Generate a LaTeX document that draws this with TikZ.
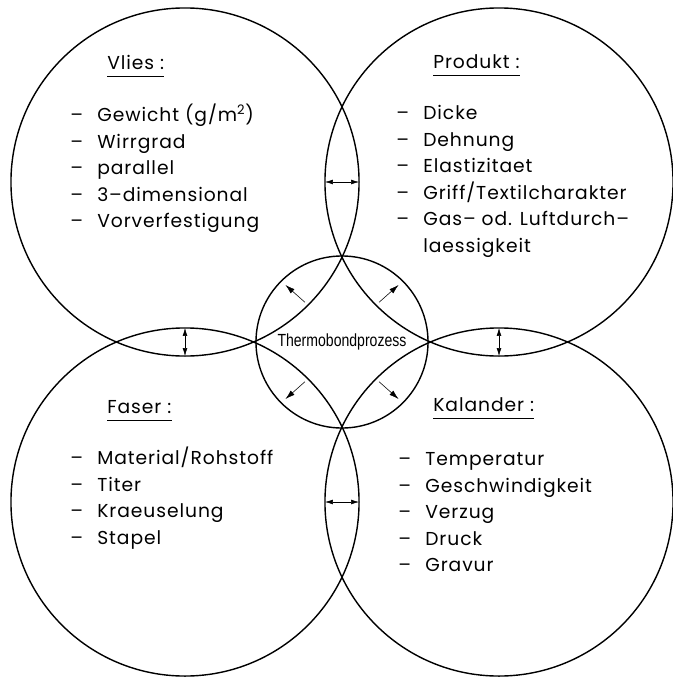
\documentclass[tikz,border=0pt]{standalone}
\usepackage{fontspec}
\setmainfont{Poppins}[LetterSpace=5]
\newfontfamily\narrowfont[FakeStretch=0.8]{Liberation Sans}
\usetikzlibrary{arrows.meta}

\begin{document}
\begin{tikzpicture}[x=0.025cm, y=-0.025cm,
    bigcircle/.style={draw, circle, line width=1pt, minimum size=8.7cm, inner sep=0pt, outer sep=0pt},
    title/.style={anchor=base west, inner sep=0pt, font=\fontsize{13.3}{16}\selectfont},
    items/.style={anchor=base west, inner sep=0pt, font=\fontsize{13.3}{18.85}\selectfont},
    lens/.style={{Latex[length=2mm,width=1.2mm]}-{Latex[length=2mm,width=1.2mm]}, line width=0.4pt},
    outward/.style={-{Latex[length=2.4mm,width=1.4mm]}, line width=0.4pt, shorten <=3pt, shorten >=4pt}]
  \useasboundingbox (0,0) rectangle (672,677);

  % four big circles and the centre
  \node[bigcircle] (vlies)    at (185,182) {};
  \node[bigcircle] (produkt)  at (499,182) {};
  \node[bigcircle] (faser)    at (185,502) {};
  \node[bigcircle] (kalander) at (499,502) {};
  \node[draw, circle, line width=1pt, minimum size=4.3cm, inner sep=0pt, outer sep=0pt,
        font=\narrowfont\fontsize{12.5}{14}\selectfont] (thermo) at (342,342) {Thermobondprozess};

  % titles
  \node[title] (vliesT)    at (107,69)  {Vlies :};
  \node[title] (produktT)  at (433,68)  {Produkt :};
  \node[title] (faserT)    at (107,413) {Faser :};
  \node[title] (kalanderT) at (433,411) {Kalander :};
  \foreach \t in {vliesT, produktT, faserT, kalanderT}
    \draw[line width=0.8pt] ([yshift=-5.3pt]\t.base west) -- ([yshift=-5.3pt]\t.base east);

  % lists
  \node[items] (vliesL) at (70,121.5) {\begin{tabular}[t]{@{}p{0.675cm}@{}l@{}}
    -- & Gewicht (g/m\textsuperscript{2}) \\
    -- & Wirrgrad \\
    -- & parallel \\
    -- & 3--dimensional \\
    -- & Vorverfestigung
  \end{tabular}};
  \node[items] (produktL) at (396,119.5) {\begin{tabular}[t]{@{}p{0.675cm}@{}l@{}}
    -- & Dicke \\
    -- & Dehnung \\
    -- & Elastizitaet \\
    -- & Griff/Textilcharakter \\
    -- & Gas-- od. Luftdurch-- \\
       & laessigkeit
  \end{tabular}};
  \node[items] (faserL) at (70,464.5) {\begin{tabular}[t]{@{}p{0.675cm}@{}l@{}}
    -- & Material/Rohstoff \\
    -- & Titer \\
    -- & Kraeuselung \\
    -- & Stapel
  \end{tabular}};
  \node[items] (kalanderL) at (398,465.5) {\begin{tabular}[t]{@{}p{0.675cm}@{}l@{}}
    -- & Temperatur \\
    -- & Geschwindigkeit \\
    -- & Verzug \\
    -- & Druck \\
    -- & Gravur
  \end{tabular}};

  % arrows in the overlaps
  \draw[lens] (produkt.west) -- (vlies.east);
  \draw[lens] (faser.north) -- (vlies.south);
  \draw[lens] (kalander.north) -- (produkt.south);
  \draw[lens] (kalander.west) -- (faser.east);

  \draw[outward] (vlies.-45) -- (thermo.135);
  \draw[outward] (produkt.-135) -- (thermo.45);
  \draw[outward] (faser.45) -- (thermo.-135);
  \draw[outward] (kalander.135) -- (thermo.-45);
\end{tikzpicture}
\end{document}
